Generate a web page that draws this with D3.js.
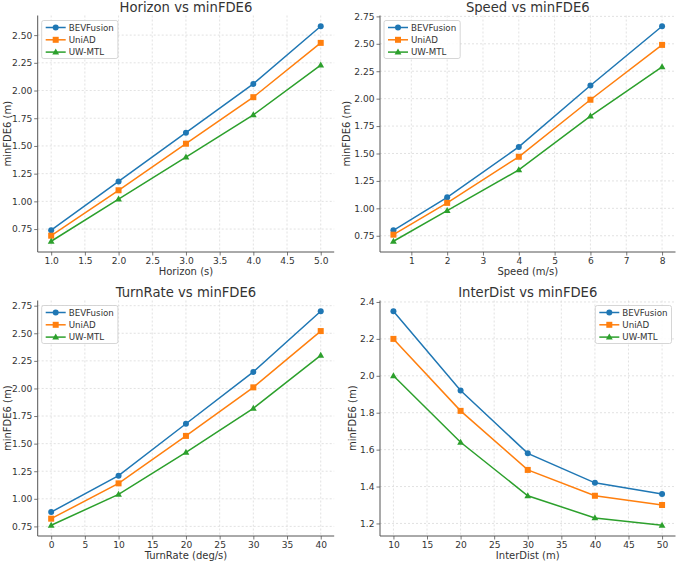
<!DOCTYPE html>
<html>
<head>
<meta charset="utf-8">
<script src="https://cdn.jsdelivr.net/npm/d3@7"></script>
<style>
  body { margin: 0; background: #fff; }
  svg { font-family: "DejaVu Sans", sans-serif; }
</style>
</head>
<body>
<svg id="chart" width="678" height="562"></svg>
<script>
// series names and colours
var seriesNames = ["BEVFusion", "UniAD", "UW-MTL"];
var seriesColors = ["#1f77b4", "#ff7f0e", "#2ca02c"];
var seriesMarkers = ["circle", "square", "triangle"];

// Horizon
var horizonX = [1, 2, 3, 4, 5];
var horizonBEV = [0.74, 1.18, 1.62, 2.06, 2.58];
var horizonUniAD = [0.69, 1.10, 1.52, 1.94, 2.43];
var horizonUW = [0.64, 1.02, 1.40, 1.78, 2.23];
var horizonXTicks = [1.0, 1.5, 2.0, 2.5, 3.0, 3.5, 4.0, 4.5, 5.0];
var horizonYTicks = [0.75, 1.00, 1.25, 1.50, 1.75, 2.00, 2.25, 2.50];

// Speed
var speedX = [0.5, 2, 4, 6, 8];
var speedBEV = [0.80, 1.10, 1.56, 2.12, 2.66];
var speedUniAD = [0.76, 1.05, 1.47, 1.99, 2.49];
var speedUW = [0.70, 0.98, 1.35, 1.84, 2.29];
var speedXTicks = [1, 2, 3, 4, 5, 6, 7, 8];
var speedYTicks = [0.75, 1.00, 1.25, 1.50, 1.75, 2.00, 2.25, 2.50, 2.75];

// TurnRate
var turnX = [0, 10, 20, 30, 40];
var turnBEV = [0.88, 1.21, 1.68, 2.15, 2.70];
var turnUniAD = [0.82, 1.14, 1.57, 2.01, 2.52];
var turnUW = [0.76, 1.04, 1.42, 1.82, 2.30];
var turnXTicks = [0, 5, 10, 15, 20, 25, 30, 35, 40];
var turnYTicks = [0.75, 1.00, 1.25, 1.50, 1.75, 2.00, 2.25, 2.50, 2.75];

// InterDist
var distX = [10, 20, 30, 40, 50];
var distBEV = [2.35, 1.92, 1.58, 1.42, 1.36];
var distUniAD = [2.20, 1.81, 1.49, 1.35, 1.30];
var distUW = [2.00, 1.64, 1.35, 1.23, 1.19];
var distXTicks = [10, 15, 20, 25, 30, 35, 40, 45, 50];
var distYTicks = [1.2, 1.4, 1.6, 1.8, 2.0, 2.2, 2.4];

var panels = [
    {title: "Horizon vs minFDE6", xlabel: "Horizon (s)", x: horizonX, ys: [horizonBEV, horizonUniAD, horizonUW],
     xt: horizonXTicks, yt: horizonYTicks, xf: ".1f", yf: ".2f", legend: "left"},
    {title: "Speed vs minFDE6", xlabel: "Speed (m/s)", x: speedX, ys: [speedBEV, speedUniAD, speedUW],
     xt: speedXTicks, yt: speedYTicks, xf: "d", yf: ".2f", legend: "left"},
    {title: "TurnRate vs minFDE6", xlabel: "TurnRate (deg/s)", x: turnX, ys: [turnBEV, turnUniAD, turnUW],
     xt: turnXTicks, yt: turnYTicks, xf: "d", yf: ".2f", legend: "left"},
    {title: "InterDist vs minFDE6", xlabel: "InterDist (m)", x: distX, ys: [distBEV, distUniAD, distUW],
     xt: distXTicks, yt: distYTicks, xf: "d", yf: ".1f", legend: "right"}
];

// plot areas (layout)
var cols = [[37.7, 334.2], [380, 675.5]];
var rows = [[15.5, 252], [300.5, 536]];

var svg = d3.select("#chart");
var textColor = "#333";
var spineColor = "#555";

// matplotlib style 5% margins
function padded(vals) {
    var e = d3.extent(vals);
    var m = (e[1] - e[0]) * 0.05;
    return [e[0] - m, e[1] + m];
}

function drawMarker(g, type, cx, cy, color) {
    if (type == "circle") {
        g.append("circle").attr("cx", cx).attr("cy", cy).attr("r", 3).attr("fill", color);
    } else if (type == "square") {
        g.append("rect").attr("x", cx - 3).attr("y", cy - 3).attr("width", 6).attr("height", 6).attr("fill", color);
    } else {
        g.append("path").attr("d", "M" + cx + "," + (cy - 3.6) + "L" + (cx + 3.4) + "," + (cy + 2.4) + "L" + (cx - 3.4) + "," + (cy + 2.4) + "Z")
            .attr("fill", color);
    }
}

panels.forEach(function(p, i) {
    var c = cols[i % 2], r = rows[Math.floor(i / 2)];
    var x = d3.scaleLinear().domain(padded(p.x)).range(c);
    var y = d3.scaleLinear().domain(padded([].concat.apply([], p.ys))).range([r[1], r[0]]);

    var g = svg.append("g");

    // grid
    g.append("g").selectAll("line").data(p.xt).enter().append("line")
        .attr("x1", function(d) { return x(d); }).attr("x2", function(d) { return x(d); })
        .attr("y1", r[0]).attr("y2", r[1])
        .attr("stroke", "#dadada").attr("stroke-width", 0.8).attr("stroke-dasharray", "2,2");
    g.append("g").selectAll("line").data(p.yt).enter().append("line")
        .attr("y1", function(d) { return y(d); }).attr("y2", function(d) { return y(d); })
        .attr("x1", c[0]).attr("x2", c[1])
        .attr("stroke", "#dadada").attr("stroke-width", 0.8).attr("stroke-dasharray", "2,2");

    // axes
    var xAxis = g.append("g").attr("transform", "translate(0," + r[1] + ")")
        .call(d3.axisBottom(x).tickValues(p.xt).tickFormat(d3.format(p.xf)).tickSize(3.5).tickPadding(2.5).tickSizeOuter(0));
    var yAxis = g.append("g").attr("transform", "translate(" + c[0] + ",0)")
        .call(d3.axisLeft(y).tickValues(p.yt).tickFormat(d3.format(p.yf)).tickSize(3.5).tickPadding(2).tickSizeOuter(0));
    [xAxis, yAxis].forEach(function(a) {
        a.select(".domain").attr("stroke", spineColor).attr("stroke-width", 1);
        a.selectAll(".tick line").attr("stroke", spineColor).attr("stroke-width", 0.8);
        a.selectAll(".tick text").attr("fill", textColor).style("font-size", "9.1px").style("font-family", "DejaVu Sans");
    });
    // the y spine covers the full height
    yAxis.select(".domain").attr("d", "M0," + r[0] + "V" + r[1]);
    xAxis.select(".domain").attr("d", "M" + c[0] + ",0H" + c[1]);

    // labels
    g.append("text").attr("x", (c[0] + c[1]) / 2).attr("y", r[0] - 4)
        .attr("text-anchor", "middle").attr("fill", textColor).style("font-size", "13.2px").text(p.title);
    g.append("text").attr("x", (c[0] + c[1]) / 2).attr("y", r[1] + 22.5)
        .attr("text-anchor", "middle").attr("fill", textColor).style("font-size", "10px").text(p.xlabel);
    var yb = yAxis.node().getBBox();
    var ylx = Math.max(c[0] + yb.x - 4, 11);
    g.append("text").attr("transform", "translate(" + ylx + "," + ((r[0] + r[1]) / 2) + ") rotate(-90)")
        .attr("text-anchor", "middle").attr("fill", textColor).style("font-size", "10px").text("minFDE6 (m)");

    // series
    var line = d3.line().x(function(d) { return x(d[0]); }).y(function(d) { return y(d[1]); });
    p.ys.forEach(function(vals, k) {
        var pts = p.x.map(function(xv, j) { return [xv, vals[j]]; });
        g.append("path").attr("d", line(pts)).attr("fill", "none")
            .attr("stroke", seriesColors[k]).attr("stroke-width", 1.5);
        var mg = g.append("g");
        pts.forEach(function(pt) { drawMarker(mg, seriesMarkers[k], x(pt[0]), y(pt[1]), seriesColors[k]); });
    });

    // legend
    var lg = g.append("g");
    var box = lg.append("rect").attr("fill", "white").attr("fill-opacity", 0.85)
        .attr("stroke", "#cccccc").attr("stroke-width", 0.8).attr("rx", 2);
    var items = lg.append("g");
    seriesNames.forEach(function(name, k) {
        var cy = 7 + k * 12.3;
        items.append("line").attr("x1", 4).attr("x2", 24).attr("y1", cy).attr("y2", cy)
            .attr("stroke", seriesColors[k]).attr("stroke-width", 1.5);
        drawMarker(items, seriesMarkers[k], 14, cy, seriesColors[k]);
        items.append("text").attr("x", 27).attr("y", cy + 3.2).attr("fill", textColor)
            .style("font-size", "8.7px").text(name);
    });
    var ib = items.node().getBBox();
    var lw = ib.x + ib.width + 4, lh = 38;
    box.attr("width", lw).attr("height", lh);
    var lx = p.legend == "left" ? c[0] + 4 : c[1] - 4 - lw;
    lg.attr("transform", "translate(" + lx + "," + (r[0] + 5) + ")");
});
</script>
</body>
</html>
